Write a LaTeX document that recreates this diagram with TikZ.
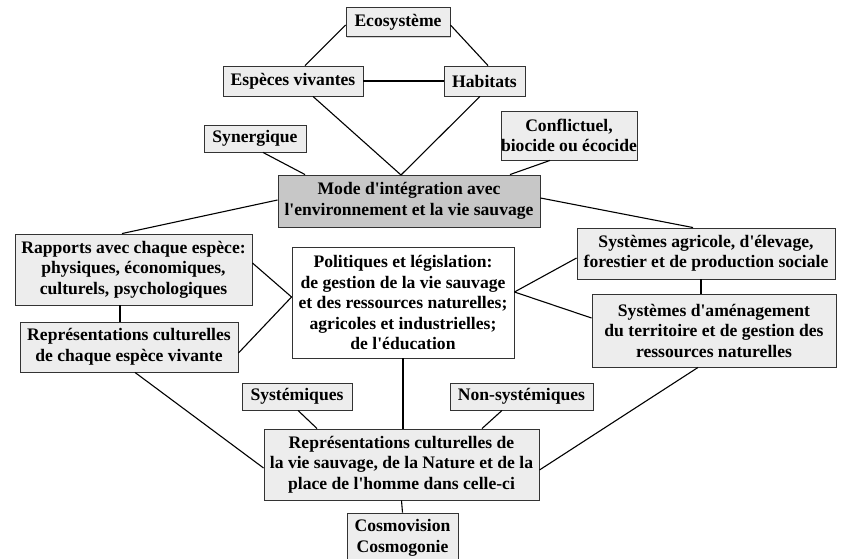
\documentclass[tikz,border=0pt]{standalone}
\usepackage{fontspec}
\setmainfont{Liberation Serif}
\usetikzlibrary{shadows}
\newcommand{\q}{\textquotesingle}
\begin{document}
\begin{tikzpicture}[x=1pt,y=-1pt,
  box/.style={draw=black!80, line width=0.9pt, fill=black!7, inner sep=0pt, align=center,
    drop shadow={shadow xshift=1.2pt, shadow yshift=-1.2pt, opacity=0.35},
    font=\bfseries\fontsize{17.6}{20.5}\selectfont},
  darkbox/.style={box, fill=black!22},
  whitebox/.style={box, fill=white},
  link/.style={line width=1.1pt, black}]
\useasboundingbox (0,0) rectangle (843,559);
% nodes
\node[box, minimum width=104, minimum height=29] (eco) at (398,22) {Ecosystème};
\node[box, minimum width=140, minimum height=30] (esp) at (293,81) {Espèces vivantes};
\node[box, minimum width=81, minimum height=30] (hab) at (484.5,81) {Habitats};
\node[box, minimum width=102, minimum height=27] (syn) at (255,138.5) {Synergique};
\node[box, minimum width=134, minimum height=49] (con) at (569,135.5) {Conflictuel,\\biocide ou écocide};
\node[darkbox, minimum width=262, minimum height=52] (mode) at (409,201) {Mode d\q intégration avec\\l\q environnement et la vie sauvage};
\node[box, minimum width=237, minimum height=71] (rap) at (133.5,269.5) {Rapports avec chaque espèce:\\physiques, économiques,\\culturels, psychologiques};
\node[whitebox, minimum width=222, minimum height=111] (pol) at (403,302.5) {Politiques et législation:\\de gestion de la vie sauvage\\et des ressources naturelles;\\agricoles et industrielles;\\de l\q éducation};
\node[box, minimum width=258, minimum height=51] (agr) at (706,253.5) {Systèmes agricole, d\q élevage,\\forestier et de production sociale};
\node[box, minimum width=244, minimum height=73] (ame) at (714,330.5) {Systèmes d\q aménagement\\du territoire et de gestion des\\ressources naturelles};
\node[box, minimum width=218, minimum height=50] (rep) at (129,347) {Représentations culturelles\\de chaque espèce vivante};
\node[box, minimum width=110, minimum height=27] (sys) at (297,396.5) {Systémiques};
\node[box, minimum width=143, minimum height=27] (non) at (521.5,396.5) {Non-systémiques};
\node[box, minimum width=275, minimum height=71] (vie) at (401.5,464.5) {Représentations culturelles de\\la vie sauvage, de la Nature et de la\\place de l\q homme dans celle-ci};
\node[box, minimum width=111, minimum height=50] (cos) at (402.5,538) {Cosmovision\\Cosmogonie};
% meeting point on top of the central box
\coordinate (mtop) at (401,175);
% connectors
\draw[link] ([yshift=-3]eco.west) -- ([xshift=12]esp.north);
\draw[link] ([yshift=-3]eco.east) -- ([xshift=3.5]hab.north);
\draw[link] (esp.east) -- (hab.west);
\draw[link] ([xshift=20]esp.south) -- (mtop);
\draw[link] ([xshift=-4.5]hab.south) -- (mtop);
\draw[link] ([xshift=8]syn.south) -- ([xshift=-104]mode.north);
\draw[link] ([xshift=-19]con.south) -- ([xshift=101]mode.north);
\draw[link] ([yshift=1]mode.west) -- ([xshift=-11.5]rap.north);
\draw[link] ([yshift=3]mode.east) -- ([xshift=-13]agr.north);
\draw[link] ([yshift=6.5]rap.east) -- ([yshift=5.5]pol.west);
\draw[link] ([yshift=-6]rep.east) -- ([yshift=5.5]pol.west);
\draw[link] ([xshift=-13.5]rap.south) -- ([xshift=-9]rep.north);
\draw[link] ([yshift=10.5]pol.east) -- ([yshift=-4.5]agr.west);
\draw[link] ([yshift=10.5]pol.east) -- ([yshift=12.5]ame.west);
\draw[link] ([xshift=-5]agr.south) -- ([xshift=-13]ame.north);
\draw[link] (pol.south) -- ([xshift=1.5]vie.north);
\draw[link] ([xshift=1]sys.south) -- ([xshift=-84.5]vie.north);
\draw[link] ([xshift=-19.5]non.south) -- ([xshift=80.5]vie.north);
\draw[link] ([xshift=6]rep.south) -- ([yshift=-3.5]vie.west);
\draw[link] ([xshift=-16]ame.south) -- ([yshift=-5.5]vie.east);
\draw[link] (vie.south) -- (cos.north);
\end{tikzpicture}
\end{document}
